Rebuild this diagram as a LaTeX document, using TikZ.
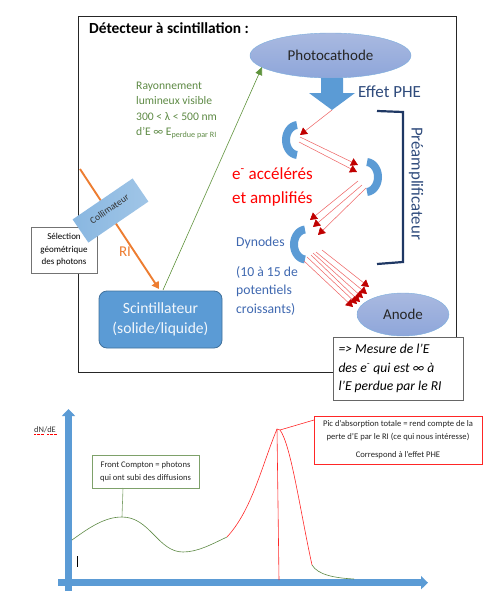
\documentclass[tikz,border=0pt]{standalone}
\usepackage{fontspec}
\setmainfont{Carlito}
\usetikzlibrary{arrows.meta,shapes.geometric,calc}
\definecolor{bluefill}{HTML}{5B9BD5}
\definecolor{blueedge}{HTML}{41719C}
\definecolor{elltop}{HTML}{A9B9E0}
\definecolor{ellbot}{HTML}{8EA6DA}
\definecolor{navy}{HTML}{1F3864}
\definecolor{txtnavy}{HTML}{2F4B7C}
\definecolor{dynblue}{HTML}{3F68B0}
\definecolor{grn}{HTML}{70AD47}
\definecolor{grndark}{HTML}{5E8A45}
\definecolor{orng}{HTML}{ED7D31}
\definecolor{redl}{HTML}{EE6A6A}
\definecolor{redh}{HTML}{C00000}
\tikzset{
  px/.style={x=1pt,y=-1pt},
  ell/.style={ellipse,draw=bluefill!80!white,top color=elltop,bottom color=ellbot,inner sep=0pt,text=black!85},
  textonly/.style={inner sep=0pt,align=left,anchor=north west},
  ray/.style={draw=redl,line width=.55pt,-{Triangle[length=7pt,width=8pt,color=redh]}},
  dyn/.style={draw=bluefill,line width=8pt},
}
\newcommand{\dynode}[4]{\draw[dyn] plot[smooth,domain=#3:#4,samples=25] ({#1+12*cos(\x)},{#2+12*1.25*sin(\x)});}
\begin{document}
\begin{tikzpicture}[px]
\useasboundingbox (0,0) rectangle (496,611);
% frame
\draw[line width=.8pt,black!85] (78.5,16.5) rectangle (456.5,372.5);
\node[textonly,font=\bfseries\fontsize{15.4}{17}\selectfont] (title) at (89,22) {Détecteur à scintillation :};
% green text
\node[textonly,text=grndark,font=\fontsize{11.6}{15.2}\selectfont] (ray) at (136,82) {Rayonnement\\lumineux visible\\300 < λ < 500 nm\\d’E ∞ E\textsubscript{perdue par RI}};
% photocathode
\node[ell,minimum width=161pt,minimum height=45pt,font=\fontsize{15}{17}\selectfont] (photo) at (330.5,55.5) {Photocathode};
% scintillateur
\node[draw=blueedge,fill=bluefill,rounded corners=8pt,line width=.8pt,minimum width=123pt,minimum height=57pt,inner sep=0pt,align=center,text=white!92!bluefill,font=\fontsize{15.6}{20}\selectfont] (scint) at (160.5,319.5) {Scintillateur\\(solide/liquide)};
% green ray
\coordinate (gs) at (163,290);
\coordinate (ge) at (262,67);
\draw[grn!85!black,line width=.6pt,-{Triangle[length=8pt,width=7pt]}] (gs) -- (ge);
% orange
\coordinate (os) at (80,169);
\coordinate (oe) at (159,289);
\draw[orng,line width=1.9pt,-{Triangle[length=7pt,width=8pt]}] (os) -- (oe);
\node[text=orng,font=\fontsize{15}{17}\selectfont,inner sep=0pt] (ri) at (125,252) {RI};
% selection
\node[draw=black!55,fill=white,line width=.7pt,minimum width=66pt,minimum height=46pt,align=center,inner sep=0pt,font=\fontsize{9}{12.5}\selectfont] (sel) at (64,250) {Sélection\\géométrique\\des photons};
% collimateur
\node[rotate=34.3,left color=bluefill!72!white,right color=bluefill!58!white,minimum width=72.7pt,minimum height=28pt,inner sep=0pt,font=\fontsize{9.5}{11}\selectfont,text=black!80] (coll) at (110.5,210.5) {\raisebox{4pt}{Collimateur}};
% big arrow
\fill[bluefill] (321,78) -- (343,78) -- (343,93) -- (355,93) -- (332,110) -- (309,93) -- (321,93) -- cycle;
\node[text=txtnavy,inner sep=0pt,anchor=west,font=\fontsize{17}{19}\selectfont] (phe) at (358,92) {Effet PHE};
% preampli bracket
\draw[navy,line width=2.2pt] (377,111) -- (403,112) -- (403,262) -- (377,264);
\node[rotate=-90,text=txtnavy,font=\fontsize{16.8}{19}\selectfont,inner sep=0pt] (pre) at (416,183.5) {Préamplificateur};
% dynodes
\dynode{298}{140}{95}{265}
\dynode{366}{177}{-85}{85}
\dynode{306}{244.5}{95}{265}
% labels
\node[textonly,text=red,font=\fontsize{17}{24}\selectfont] (ea) at (232,167) {e\textsuperscript{-} accélérés\\et amplifiés};
\node[text=dynblue,inner sep=0pt,anchor=west,font=\fontsize{13.7}{15}\selectfont] (dy) at (236,243) {Dynodes};
\node[textonly,text=dynblue,font=\fontsize{13.7}{18.5}\selectfont] (pot) at (236,266) {(10 à 15 de\\potentiels\\croissants)};
% anode
\node[ell,minimum width=92pt,minimum height=43pt,font=\fontsize{15}{17}\selectfont] (anode) at (403,314.5) {Anode};
% rays
\coordinate (a0) at (332,110);
\draw[ray] (a0) -- (300,135);
\draw[ray] (300,137) -- (358,165);
\draw[ray] (299,142) -- (357,172);
\draw[ray] (358,181) -- (310,220);
\draw[ray] (362,185) -- (313,227);
\draw[ray] (366,188) -- (318,235);
\foreach \a/\b/\c/\d in {322/250/369/287, 316/252/367/294, 313/253/363/298, 311/255/360/302, 307/257/357/304, 304/261/353/307}{\draw[ray] (\a,\b) -- (\c,\d);}
% mesure box
\node[draw=black!60,fill=white,line width=.8pt,minimum width=130pt,minimum height=63pt,text width=119pt,align=flush left,inner sep=0pt,font=\itshape\fontsize{13.6}{18.5}\selectfont] (mes) at (398,368.5) {=> Mesure de l’E\\des e\textsuperscript{-} qui est ∞ à\\l’E perdue par le RI};
% graph
\node[inner sep=0pt,font=\fontsize{8.4}{10}\selectfont,text=black!80] (dn) at (45,430) {dN/dE};
\draw[red,line width=.3pt,densely dotted] (34,434.5) -- (44,434.5) (47,434.5)--(57,434.5);
\coordinate (xs) at (58,582.7);
\coordinate (xe) at (428,582.7);
\coordinate (ys) at (68.5,591);
\coordinate (ye) at (68.5,409);
\draw[bluefill,line width=7pt,-{Triangle[length=7pt,width=13pt]}] (ys) -- (ye);
\draw[bluefill,line width=7pt,-{Triangle[length=7pt,width=13pt]}] (xs) -- (xe);
\draw[black,line width=.6pt] (77.5,556) -- (77.5,567);
% curves
\coordinate (c0) at (72,540);
\coordinate (cm) at (122,517);
\coordinate (cmin) at (183,552);
\coordinate (cj) at (227,537);
\coordinate (pk) at (277,429);
\coordinate (pk2) at (280,430);
\coordinate (pd) at (312,565);
\coordinate (cend) at (354,579);
\coordinate (pkb) at (279,580);
\draw[grndark,line width=.6pt] (c0) .. controls (90,527) and (105,517) .. (cm) .. controls (150,517) and (158,552) .. (cmin) .. controls (198,552) and (212,544) .. (cj);
\draw[red!85!white,line width=.6pt] (cj) .. controls (252,510) and (262,465) .. (pk) -- (pk2) .. controls (291,445) and (300,510) .. (pd);
\draw[grndark,line width=.6pt] (pd) .. controls (318,575) and (335,578) .. (cend);
\draw[red!85!white,line width=.6pt] (pk) -- (pkb);
% front compton
\node[draw=grndark!80!white,fill=white,line width=.6pt,minimum width=107pt,minimum height=33pt,align=center,inner sep=0pt,font=\fontsize{8.6}{13}\selectfont,text=black!85] (fc) at (145.5,471.5) {Front Compton = photons\\qui ont subi des diffusions};
\coordinate (fcb) at (123,488);
\draw[grndark!80!white,line width=.6pt] (fcb) -- (cm);
% pic
\node[draw=red!85!white,fill=white,line width=.6pt,minimum width=168pt,minimum height=48pt,align=center,inner sep=0pt,font=\fontsize{8.6}{12.5}\selectfont,text=black!85] (pic) at (398,440) {Pic d’absorption totale = rend compte de la\\perte d’E par le RI (ce qui nous intéresse)\\[6pt]Correspond à l’effet PHE};
\coordinate (picl) at (314,420);
\draw[red!85!white,line width=.6pt] (picl) -- (pk2);
\end{tikzpicture}
\end{document}
